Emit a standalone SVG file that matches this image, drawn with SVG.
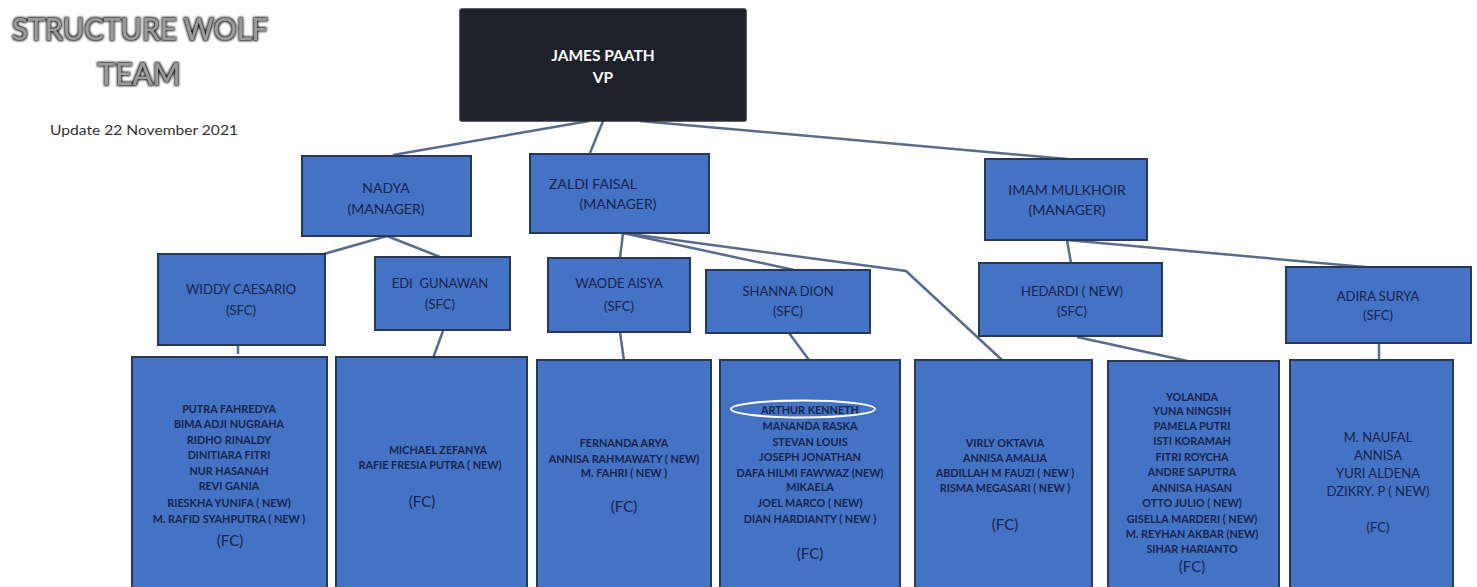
<svg xmlns="http://www.w3.org/2000/svg" width="1477" height="587" viewBox="0 0 1477 587">
<defs>
<filter id="outline" x="-10%" y="-30%" width="120%" height="160%">
<feMorphology in="SourceAlpha" operator="dilate" radius="1.3" result="d"/>
<feGaussianBlur in="d" stdDeviation="1.3" result="b"/>
<feFlood flood-color="#151515"/>
<feComposite in2="b" operator="in" result="s"/>
<feMerge><feMergeNode in="s"/><feMergeNode in="SourceGraphic"/></feMerge>
</filter>
</defs>
<style>
.bx{fill:#4472c4;stroke:#2a3857;stroke-width:2}
.vp{fill:#1e2129;stroke:#2a2d33;stroke-width:1.5}
.t{font-family:Lato,"Liberation Sans",sans-serif;text-anchor:middle;fill:#17244d}
.mg{font-size:14px}
.sf{font-size:13px}
.nm{font-size:10.8px;font-weight:700}
.fc{font-size:15px}
.w{fill:#ffffff;font-weight:700;font-size:15.5px}
.ln{fill:none;stroke:#5a6c8a;stroke-width:2.5}
</style>
<rect width="1477" height="587" fill="#ffffff"/>
<g id="title">
<text x="140" y="40" class="t" style="font-size:30px;fill:#9c9c9c" textLength="256" lengthAdjust="spacingAndGlyphs" filter="url(#outline)">STRUCTURE WOLF</text>
<text x="139" y="85" class="t" style="font-size:30px;fill:#9c9c9c" textLength="83" lengthAdjust="spacingAndGlyphs" filter="url(#outline)">TEAM</text>
<text x="144" y="135" class="t" style="font-size:13.5px;fill:#333333" textLength="188" lengthAdjust="spacingAndGlyphs">Update 22 November 2021</text>
</g>
<g id="connectors">
<line class="ln" x1="589" y1="121" x2="393" y2="155"/>
<line class="ln" x1="603" y1="121" x2="590" y2="153"/>
<line class="ln" x1="640" y1="121" x2="1067" y2="159"/>
<line class="ln" x1="387" y1="236" x2="324" y2="254"/>
<line class="ln" x1="387" y1="236" x2="440" y2="257"/>
<line class="ln" x1="623" y1="233" x2="620" y2="258"/>
<line class="ln" x1="623" y1="233" x2="794" y2="270"/>
<polyline class="ln" points="623,233 906,271 1002,360"/>
<line class="ln" x1="1067" y1="240" x2="1071" y2="263"/>
<line class="ln" x1="1067" y1="240" x2="1376" y2="268"/>
<line class="ln" x1="238" y1="346" x2="238" y2="354"/>
<line class="ln" x1="443" y1="331" x2="433" y2="358"/>
<line class="ln" x1="620" y1="332" x2="624" y2="361"/>
<line class="ln" x1="789" y1="333" x2="809" y2="360"/>
<line class="ln" x1="1077" y1="337" x2="1192" y2="362"/>
<line class="ln" x1="1379" y1="343" x2="1379" y2="361"/>
</g>
<g id="vp">
<rect class="vp" x="460" y="9" width="286" height="112" rx="2"/>
<text x="603" y="61" class="t w">JAMES PAATH</text>
<text x="603" y="83" class="t w">VP</text>
</g>
<g id="nadya">
<rect class="bx" x="302" y="156" width="169" height="80"/>
<text x="386" y="193" class="t mg">NADYA</text>
<text x="386" y="214" class="t mg">(MANAGER)</text>
</g>
<g id="zaldi">
<rect class="bx" x="530" y="154" width="179" height="79"/>
<text x="593" y="189" class="t mg">ZALDI FAISAL</text>
<text x="618" y="209" class="t mg">(MANAGER)</text>
</g>
<g id="imam">
<rect class="bx" x="985" y="159" width="162" height="81"/>
<text x="1067" y="195" class="t mg">IMAM MULKHOIR</text>
<text x="1067" y="215" class="t mg">(MANAGER)</text>
</g>
<g id="widdy">
<rect class="bx" x="158" y="254" width="167" height="91"/>
<text x="241" y="294" class="t sf">WIDDY CAESARIO</text>
<text x="241" y="315" class="t sf">(SFC)</text>
</g>
<g id="edi">
<rect class="bx" x="375" y="257" width="135" height="73"/>
<text x="440" y="288" class="t sf" style="white-space:pre">EDI  GUNAWAN</text>
<text x="440" y="309" class="t sf">(SFC)</text>
</g>
<g id="waode">
<rect class="bx" x="548" y="258" width="142" height="74"/>
<text x="619" y="288" class="t sf">WAODE AISYA</text>
<text x="619" y="311" class="t sf">(SFC)</text>
</g>
<g id="shanna">
<rect class="bx" x="706" y="270" width="164" height="63"/>
<text x="788" y="296" class="t sf">SHANNA DION</text>
<text x="788" y="316" class="t sf">(SFC)</text>
</g>
<g id="hedardi">
<rect class="bx" x="979" y="263" width="183" height="73"/>
<text x="1072" y="296" class="t sf">HEDARDI ( NEW)</text>
<text x="1072" y="316" class="t sf">(SFC)</text>
</g>
<g id="adira">
<rect class="bx" x="1286" y="267" width="185" height="76"/>
<text x="1378" y="301" class="t sf">ADIRA SURYA</text>
<text x="1378" y="320" class="t sf">(SFC)</text>
</g>
<g id="fc1">
<rect class="bx" x="132" y="357" width="195" height="245"/>
<text class="t nm" x="229" y="413">PUTRA FAHREDYA</text>
<text class="t nm" x="229" y="428">BIMA ADJI NUGRAHA</text>
<text class="t nm" x="229" y="444">RIDHO RINALDY</text>
<text class="t nm" x="229" y="459">DINITIARA FITRI</text>
<text class="t nm" x="229" y="475">NUR HASANAH</text>
<text class="t nm" x="229" y="490">REVI GANIA</text>
<text class="t nm" x="229" y="507">RIESKHA YUNIFA ( NEW)</text>
<text class="t nm" x="229" y="523">M. RAFID SYAHPUTRA ( NEW )</text>
<text class="t fc" x="230" y="546">(FC)</text>
</g>
<g id="fc2">
<rect class="bx" x="336" y="357" width="191" height="245"/>
<text class="t nm" x="438" y="454">MICHAEL ZEFANYA</text>
<text class="t nm" x="430" y="469">RAFIE FRESIA PUTRA ( NEW)</text>
<text class="t fc" x="422" y="507">(FC)</text>
</g>
<g id="fc3">
<rect class="bx" x="537" y="360" width="174" height="242"/>
<text class="t nm" x="624" y="447">FERNANDA ARYA</text>
<text class="t nm" x="624" y="463">ANNISA RAHMAWATY ( NEW)</text>
<text class="t nm" x="624" y="477">M. FAHRI ( NEW )</text>
<text class="t fc" x="624" y="512">(FC)</text>
</g>
<g id="fc4">
<rect class="bx" x="720" y="360" width="180" height="242"/>
<text class="t nm" x="810" y="414">ARTHUR KENNETH</text>
<text class="t nm" x="810" y="430">MANANDA RASKA</text>
<text class="t nm" x="810" y="446">STEVAN LOUIS</text>
<text class="t nm" x="810" y="461">JOSEPH JONATHAN</text>
<text class="t nm" x="810" y="477">DAFA HILMI FAWWAZ (NEW)</text>
<text class="t nm" x="810" y="491">MIKAELA</text>
<text class="t nm" x="810" y="507">JOEL MARCO ( NEW)</text>
<text class="t nm" x="810" y="523">DIAN HARDIANTY ( NEW )</text>
<text class="t fc" x="810" y="559">(FC)</text>
<ellipse cx="803" cy="409" rx="72" ry="8.5" fill="none" stroke="#ffffff" stroke-width="2"/>
</g>
<g id="fc5">
<rect class="bx" x="915" y="360" width="177" height="242"/>
<text class="t nm" x="1005" y="447">VIRLY OKTAVIA</text>
<text class="t nm" x="1005" y="462">ANNISA AMALIA</text>
<text class="t nm" x="1005" y="477">ABDILLAH M FAUZI ( NEW )</text>
<text class="t nm" x="1005" y="492">RISMA MEGASARI ( NEW )</text>
<text class="t fc" x="1005" y="530">(FC)</text>
</g>
<g id="fc6">
<rect class="bx" x="1108" y="361" width="171" height="241"/>
<text class="t nm" x="1192" y="401">YOLANDA</text>
<text class="t nm" x="1192" y="415">YUNA NINGSIH</text>
<text class="t nm" x="1192" y="430">PAMELA PUTRI</text>
<text class="t nm" x="1192" y="445">ISTI KORAMAH</text>
<text class="t nm" x="1192" y="461">FITRI ROYCHA</text>
<text class="t nm" x="1192" y="476">ANDRE SAPUTRA</text>
<text class="t nm" x="1192" y="492">ANNISA HASAN</text>
<text class="t nm" x="1192" y="507">OTTO JULIO ( NEW)</text>
<text class="t nm" x="1192" y="523">GISELLA MARDERI ( NEW)</text>
<text class="t nm" x="1192" y="538">M. REYHAN AKBAR (NEW)</text>
<text class="t nm" x="1192" y="553">SIHAR HARIANTO</text>
<text class="t fc" x="1192" y="572">(FC)</text>
</g>
<g id="fc7">
<rect class="bx" x="1290" y="360" width="163" height="242"/>
<text class="t sf" x="1378" y="442">M. NAUFAL</text>
<text class="t sf" x="1378" y="460">ANNISA</text>
<text class="t sf" x="1378" y="478">YURI ALDENA</text>
<text class="t sf" x="1378" y="496">DZIKRY. P ( NEW)</text>
<text class="t sf" x="1378" y="532">(FC)</text>
</g>
</svg>
